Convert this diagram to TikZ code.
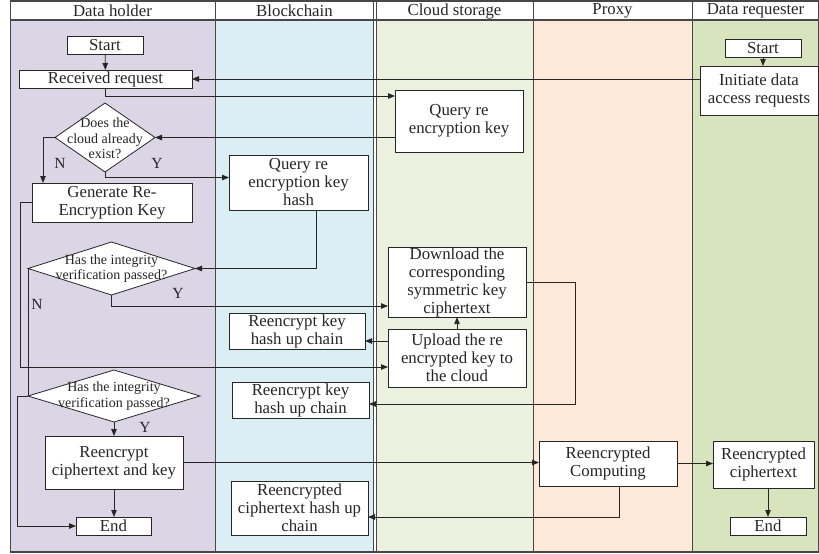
\documentclass[tikz,border=0pt]{standalone}
\usepackage{fontspec}
\setmainfont{Liberation Serif}
\usetikzlibrary{arrows.meta,shapes.geometric,calc}

\definecolor{laneDH}{HTML}{DCD5E6}
\definecolor{laneBC}{HTML}{DAEEF3}
\definecolor{laneCS}{HTML}{EBF1DE}
\definecolor{lanePX}{HTML}{FDE9D9}
\definecolor{laneDR}{HTML}{D7E4BD}
\definecolor{ink}{HTML}{262626}

\begin{document}
\begin{tikzpicture}[x=1pt,y=-1pt,
  every node/.style={text=ink, inner sep=0pt, outer sep=0pt},
  txt/.style={font=\fontsize{16.8}{18}\selectfont, align=center},
  small/.style={font=\fontsize{14}{15.5}\selectfont, align=center},
  box/.style 2 args={txt, draw=ink, line width=0.8pt, fill=white,
    minimum width=#1, minimum height=#2},
  dec/.style 2 args={diamond, draw=ink, line width=0.8pt, fill=white,
    minimum width=#1, minimum height=#2},
  line/.style={draw=ink, line width=0.8pt},
  arr/.style={line, -{Triangle[length=7pt,width=5.5pt]}},
  lane/.style={draw=ink!85, line width=1pt},
  tag/.style={font=\fontsize{15.5}{16}\selectfont},
  head/.style={txt},
]
\useasboundingbox (0,0) rectangle (819,554);

% swimlane backgrounds
\fill[laneDH] (10,20) rectangle (215,552);
\fill[laneBC] (215,20) rectangle (374,552);
\fill[laneCS] (376,20) rectangle (533,552);
\fill[lanePX] (533,20) rectangle (692,552);
\fill[laneDR] (692,20) rectangle (819,552);
\fill[white] (10,1) rectangle (819,20);

% lane borders
\foreach \x in {10,215,373.5,376,533,692,818.5}
  \draw[lane] (\x,1) -- (\x,552);
\draw[lane, line width=2pt] (10,1) -- (819,1);
\draw[lane, line width=1.3pt] (10,20) -- (819,20);
\draw[lane, line width=1.3pt] (10,552) -- (819,552);

% lane titles
\node[head] (hDH) at (112.5,11) {Data holder};
\node[head] (hBC) at (294.5,11) {Blockchain};
\node[head] (hCS) at (454.5,11) {Cloud storage};
\node[head] (hPX) at (612.5,11) {Proxy};
\node[head] (hDR) at (755.5,11) {Data requester};

% data holder
\node[box={76pt}{18pt}] (startA) at (105,45) {Start};
\node[box={173pt}{18pt}] (recv) at (105.5,79) {Received request};
\node[dec={100pt}{69pt}] (dia1) at (105,137.5) {};
\node[small] (dia1t) at (105,138.5) {Does the\\cloud already\\exist?};
\node[box={160pt}{39pt}] (gen) at (112,202.5) {Generate Re-\\Encryption Key};
\node[dec={167pt}{53pt}] (dia2) at (111.5,268.5) {};
\node[small] (dia2t) at (111.5,268.5) {Has the integrity\\verification passed?};
\node[dec={172pt}{52pt}] (dia3) at (114,396) {};
\node[small] (dia3t) at (114,396) {Has the integrity\\verification passed?};
\node[box={138pt}{53pt}] (enc) at (114,462.5) {Reencrypt\\ciphertext and key};
\node[box={75pt}{18pt}] (endA) at (113.5,526) {End};

% blockchain
\node[box={139pt}{55pt}] (qhash) at (298.5,182.5) {Query re\\encryption key\\hash};
\node[box={136pt}{36pt}] (rk1) at (297,331) {Reencrypt key\\hash up chain};
\node[box={137pt}{36pt}] (rk2) at (300.5,400) {Reencrypt key\\hash up chain};
\node[box={137pt}{54pt}] (rch) at (299.5,508) {Reencrypted\\ciphertext hash up\\chain};

% cloud storage
\node[box={128pt}{62pt}] (qkey) at (459,121) {Query re\\encryption key};
\node[box={138pt}{69pt}] (dl) at (457,282.5) {Download the\\corresponding\\symmetric key\\ciphertext};
\node[box={138pt}{58pt}] (up) at (457,358) {Upload the re\\encrypted key to\\the cloud};

% proxy
\node[box={138pt}{45pt}] (rcomp) at (608,463.5) {Reencrypted\\Computing};

% data requester
\node[box={76pt}{18pt}] (startB) at (763,48) {Start};
\node[box={118pt}{49pt}] (init) at (759,90.5) {Initiate data\\access requests};
\node[box={101pt}{47pt}] (rct) at (763.5,464.5) {Reencrypted\\ciphertext};
\node[box={76pt}{18pt}] (endB) at (768,526) {End};

% branch labels
\node[tag] (n1) at (60,163) {N};
\node[tag] (y1) at (157,163) {Y};
\node[tag] (y2) at (178,293) {Y};
\node[tag] (n2) at (37,304) {N};
\node[tag] (y3) at (145,427) {Y};

% connectors
\draw[arr] (startA) -- (recv);
\draw[arr] (startB.south) -- (startB.south |- init.north);
\draw[arr] (recv.east -| init.west) -- (recv.east);
\draw[arr] (recv.south) |- ($(qkey.north west)+(0,6)$);
\draw[arr] (dia1.east -| qkey.west) -- (dia1.east);
\draw[arr] (dia1.west) -| ($(gen.north west)+(11,0)$);
\draw[arr] (dia1.south) |- ($(qhash.west)+(0,-5)$);
\draw[arr] ($(qhash.south)+(17.5,0)$) |- (dia2.east);
\draw[arr] (dia2.south) |- ($(dl.west)+(0,23.5)$);
\draw[line] (dia2.west) -- (dia3.west);
\draw[arr] (gen.west) -- ++(-12,0) |- ($(up.west)+(0,9)$);
\draw[arr] (up.north) -- (dl.south);
\draw[arr] ($(up.west)+(0,-17)$) coordinate (upL) -- (upL -| rk1.east);
\draw[arr] (dl.east) -- ++(49,0) |- ($(rk2.east)+(0,4)$);
\draw[arr] (dia3.south) -- (enc.north);
\draw[arr] (dia3.west) -- ++(-11,0) |- (endA.west);
\draw[arr] (enc.south) -- (enc.south |- endA.north);
\draw[arr] (enc.east) -- (enc.east -| rcomp.west);
\draw[arr] (rcomp.east) -- (rcomp.east -| rct.west);
\draw[arr] (rct.south -| endB.north) -- (endB.north);
\draw[arr] ($(rcomp.south)+(11,0)$) |- ($(rch.east)+(0,9)$);
\end{tikzpicture}
\end{document}
